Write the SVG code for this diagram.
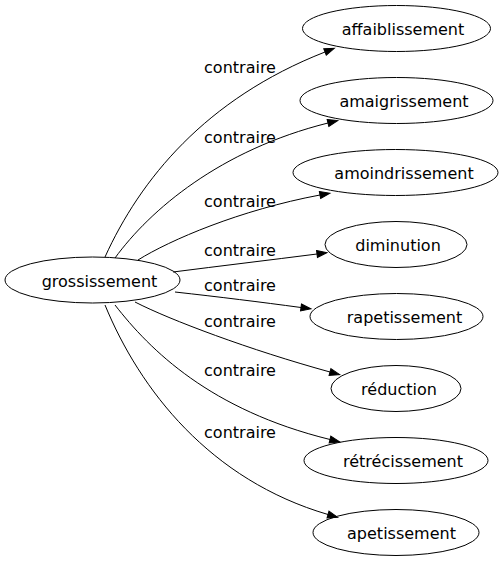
<svg xmlns="http://www.w3.org/2000/svg" width="504" height="563" viewBox="0 0 504 563">
<defs>
<style>
.node ellipse{fill:none;stroke:#000;stroke-width:1}
text{font-family:"DejaVu Sans",sans-serif;font-size:16px;fill:#000;text-anchor:middle}
.edge path{fill:none;stroke:#000;stroke-width:1}
</style>
<marker id="arr" markerUnits="userSpaceOnUse" markerWidth="10" markerHeight="7" refX="0" refY="3.5" orient="auto" overflow="visible">
<path d="M0,0 L10,3.5 L0,7 z" fill="#000" stroke="#000" stroke-width="1"/>
</marker>
</defs>
<rect width="504" height="563" fill="#fff"/>
<g id="edges">
<g class="edge"><path d="M105,257 C140,180 205,99 325,52" marker-end="url(#arr)"/><text x="240" y="73">contraire</text></g>
<g class="edge"><path d="M115,258 C150,210 220,150 328,123" marker-end="url(#arr)"/><text x="240" y="143">contraire</text></g>
<g class="edge"><path d="M138,260 C170,240 240,210 320,195" marker-end="url(#arr)"/><text x="240" y="207">contraire</text></g>
<g class="edge"><path d="M173,272 C220,266 270,260 317,254" marker-end="url(#arr)"/><text x="240" y="256">contraire</text></g>
<g class="edge"><path d="M175,292 C220,297 260,302 301,307.5" marker-end="url(#arr)"/><text x="240" y="291">contraire</text></g>
<g class="edge"><path d="M135,302 C170,320 250,350 330,372" marker-end="url(#arr)"/><text x="240" y="327">contraire</text></g>
<g class="edge"><path d="M115,305 C150,350 210,410 330,439.5" marker-end="url(#arr)"/><text x="240" y="376">contraire</text></g>
<g class="edge"><path d="M105,305 C140,390 210,480 328,514.5" marker-end="url(#arr)"/><text x="240" y="438">contraire</text></g>
</g>
<g id="n0" class="node"><ellipse cx="92.5" cy="280" rx="87.5" ry="23"/><text x="99.5" y="286.5">grossissement</text></g>
<g id="n1" class="node"><ellipse cx="396.5" cy="28.5" rx="94" ry="23"/><text x="403" y="34.5">affaiblissement</text></g>
<g id="n2" class="node"><ellipse cx="396.5" cy="100.5" rx="96.5" ry="23"/><text x="404" y="106.5">amaigrissement</text></g>
<g id="n3" class="node"><ellipse cx="395.5" cy="172.5" rx="102.5" ry="23"/><text x="404" y="178.5">amoindrissement</text></g>
<g id="n4" class="node"><ellipse cx="396" cy="244.5" rx="71" ry="23"/><text x="398" y="250.5">diminution</text></g>
<g id="n5" class="node"><ellipse cx="396.5" cy="316.5" rx="86.5" ry="23"/><text x="404.5" y="322.5">rapetissement</text></g>
<g id="n6" class="node"><ellipse cx="396" cy="388.5" rx="65" ry="23"/><text x="399" y="394.5">réduction</text></g>
<g id="n7" class="node"><ellipse cx="396" cy="460.5" rx="92" ry="23"/><text x="403" y="466.5">rétrécissement</text></g>
<g id="n8" class="node"><ellipse cx="396" cy="532.5" rx="83" ry="23"/><text x="401.5" y="538.5">apetissement</text></g>
</svg>
